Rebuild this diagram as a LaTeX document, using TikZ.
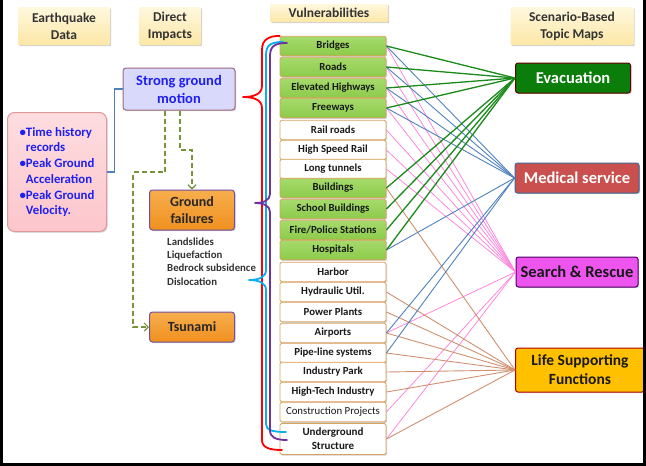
\documentclass[tikz,border=0pt]{standalone}
\usepackage{fontspec}
\setmainfont{Carlito}
\usetikzlibrary{shadows,arrows.meta}
\definecolor{vgreen}{HTML}{8CCB4A}
\definecolor{vgreentop}{HTML}{A6DA6C}
\definecolor{vborder}{HTML}{D9A35E}
\definecolor{creamtop}{HTML}{FFF8DE}
\definecolor{creambot}{HTML}{FCE7A6}
\definecolor{sgmfill}{HTML}{D9D9FB}
\definecolor{sgmdraw}{HTML}{9C6A80}
\definecolor{sgmtext}{HTML}{1F1FF0}
\definecolor{pinkfill}{HTML}{FCC6CC}
\definecolor{pinkdraw}{HTML}{E09898}
\definecolor{orangefill}{HTML}{F0901E}
\definecolor{orangetop}{HTML}{F7AE4E}
\definecolor{gfdraw}{HTML}{7050A0}
\definecolor{evacfill}{HTML}{0A7D0A}
\definecolor{medfill}{HTML}{C9504F}
\definecolor{srfill}{HTML}{EE55EE}
\definecolor{lifefill}{HTML}{FFC000}
\definecolor{lgreen}{HTML}{1A8A1A}
\definecolor{lblue}{HTML}{4F81BD}
\definecolor{lpink}{HTML}{FF88DD}
\definecolor{lbrown}{HTML}{D09070}
\definecolor{dgreen}{HTML}{77933C}
\definecolor{bcyan}{HTML}{00B0F0}
\definecolor{bpurple}{HTML}{7030A0}
\definecolor{txtgray}{HTML}{333333}
\tikzset{
  shad/.style={drop shadow={opacity=0.3, shadow xshift=1.2pt, shadow yshift=-1.2pt, fill=black!60}},
  hdr/.style={shad, top color=creamtop, bottom color=creambot, draw=none, rounded corners=1pt,
    font=\bfseries\fontsize{13.5}{17}\selectfont, text=txtgray, align=center, inner sep=1pt},
  vbox/.style={shad, draw=vborder, line width=0.8pt, rounded corners=1.5pt, minimum width=106pt,
    minimum height=19.5pt, inner sep=0.5pt, font=\bfseries\fontsize{10.8}{13}\selectfont, text=black!90},
  vgr/.style={vbox, top color=vgreentop, bottom color=vgreen},
  vwh/.style={vbox, fill=white},
  topic/.style={shad, rounded corners=2.5pt, line width=1pt, inner sep=1pt,
    font=\bfseries\fontsize{16.5}{19}\selectfont, align=center},
  lgr/.style={lgreen, line width=1.3pt},
  lbl/.style={lblue, line width=0.9pt},
  lpk/.style={lpink, line width=0.8pt},
  lbr/.style={lbrown, line width=0.9pt},
  gdash/.style={dgreen, line width=1.8pt, dash pattern=on 5pt off 3pt,
    -{Straight Barb[length=4pt,width=8pt,line width=1.2pt]}},
  brace/.style={line width=1.8pt, line cap=round, line join=round}
}
\begin{document}
\begin{tikzpicture}[x=1pt,y=-1pt]
\useasboundingbox (0,0) rectangle (646,466);

% headers
\node[hdr, minimum width=92pt, minimum height=38pt] (eqd) at (64,26) {Earthquake\\Data};
\node[hdr, minimum width=62pt, minimum height=38pt] (di) at (170,26) {Direct\\Impacts};
\node[hdr, minimum width=118pt, minimum height=18pt] (vul) at (329,13) {Vulnerabilities};
\node[hdr, minimum width=123pt, minimum height=38pt] (sbt) at (572,26) {Scenario-Based\\Topic Maps};

% left boxes
\node[shad, fill=sgmfill, draw=sgmdraw, line width=1pt, rounded corners=3pt, minimum width=112pt,
  minimum height=42pt, align=center, text=sgmtext, inner sep=1pt,
  font=\bfseries\fontsize{14.5}{18}\selectfont] (sgm) at (179,89) {Strong ground\\motion};
\node[shad, top color=pinkfill!60, bottom color=pinkfill, draw=pinkdraw, line width=1pt, rounded corners=7pt,
  minimum width=99pt, minimum height=119pt, align=left, text=sgmtext, inner sep=2pt,
  font=\bfseries\fontsize{12.8}{15.7}\selectfont] (thr) at (57,172)
  {\textbullet Time history\\\hphantom{\textbullet}records\\\textbullet Peak Ground\\\hphantom{\textbullet}Acceleration\\\textbullet Peak Ground\\\hphantom{\textbullet}Velocity.};
\node[shad, top color=orangetop, bottom color=orangefill, draw=gfdraw, line width=1pt, rounded corners=3pt,
  minimum width=85pt, minimum height=40pt, align=center, text=black!85, inner sep=1pt,
  font=\bfseries\fontsize{14}{17}\selectfont] (gf) at (192,210) {Ground\\failures};
\node[anchor=north west, align=left, inner sep=0pt, text=txtgray,
  font=\bfseries\fontsize{10.8}{13.3}\selectfont] (gflist) at (167,237.5)
  {Landslides\\Liquefaction\\Bedrock subsidence\\Dislocation};
\node[shad, top color=orangetop, bottom color=orangefill, draw=gfdraw, line width=1pt, rounded corners=3pt,
  minimum width=85pt, minimum height=30pt, text=black!85, inner sep=1pt,
  font=\bfseries\fontsize{14}{17}\selectfont] (ts) at (192,327) {Tsunami};

% connectors left
\draw[lblue, line width=1.3pt] (sgm.west) -- ++(-8,0) |- (thr.east);
\draw[gdash] ([xshift=-14pt]sgm.south) -- (165,172) -- (133,172) |- (ts.west);
\draw[gdash] ([xshift=1pt]sgm.south) -- (180,150) -- (192,150) -- (gf.north);

% vulnerabilities
\foreach \n/\y/\s/\t in {v1/46/vgr/Bridges, v2/67/vgr/Roads, v3/88/vgr/Elevated Highways,
  v4/108/vgr/Freeways, v5/130/vwh/Rail roads, v6/150/vwh/High Speed Rail, v7/169/vwh/Long tunnels,
  v8/188/vgr/Buildings, v9/209/vgr/School Buildings, v10/230/vgr/{Fire/Police Stations},
  v11/250/vgr/Hospitals, v12/272/vwh/Harbor, v13/292/vwh/Hydraulic Util., v14/312/vwh/Power Plants,
  v15/333/vwh/Airports, v16/353/vwh/Pipe-line systems, v17/372/vwh/Industry Park,
  v18/392/vwh/High-Tech Industry, v19/412/vwh/{\mdseries Construction Projects}}
  \node[\s] (\n) at (333,\y) {\t};
\node[vwh, minimum height=31pt, align=center, font=\bfseries\fontsize{11}{14}\selectfont] (v20) at (333,439) {Underground\\Structure};

% braces
\draw[brace, red] (v1.north west) .. controls (268,36) and (262,40) .. (262,50) -- (262,86)
  .. controls (262,94) and (254,97) .. (243,97) .. controls (254,97) and (262,100) .. (262,108)
  -- (262,440) .. controls (262,447) and (268,450) .. (282,450);
\draw[brace, bcyan] (283,42) .. controls (271,42) and (266,45) .. (266,55) -- (266,270)
  .. controls (266,277) and (259,280) .. (249,280) .. controls (259,280) and (266,283) .. (266,290)
  -- (266,424) .. controls (266,430) and (272,432) .. (286,432);
\draw[brace, bpurple] (287,43) .. controls (275,43) and (270,46) .. (270,56) -- (270,194)
  .. controls (270,200) and (264,203) .. (255,203) .. controls (264,203) and (270,206) .. (270,212)
  -- (270,430) .. controls (270,437) and (275,440) .. (287,440);

% topic maps
\node[topic, fill=evacfill, draw=black!60!red, text=white, minimum width=115pt, minimum height=30pt] (evac) at (573,78) {Evacuation};
\node[topic, fill=medfill, draw=lblue!80!black, text=white, minimum width=124pt, minimum height=30pt] (med) at (577,178) {Medical service};
\node[topic, fill=srfill, draw=black!50!red!60!blue, text=black!90, minimum width=122pt, minimum height=30pt] (sr) at (577,272) {Search \& Rescue};
\node[topic, fill=lifefill, draw=red!70!black, text=black!90, minimum width=129pt, minimum height=44pt,
  font=\bfseries\fontsize{15.5}{19}\selectfont] (life) at (580,370) {Life Supporting\\Functions};

% connections
\foreach \v in {v1,v2,v3,v4,v5,v6,v7,v15,v19,v20} \draw[lpk] (\v.east) -- (sr.west);
\foreach \v in {v8,v13,v14,v15,v16,v17,v18,v20} \draw[lbr] (\v.east) -- (life.west);
\foreach \v in {v1,v2,v3,v4,v11,v15,v16} \draw[lbl] (\v.east) -- (med.west);
\foreach \v in {v1,v2,v3,v4,v8,v9,v10,v11} \draw[lgr] (\v.east) -- (evac.west);

% frame
\draw[line width=2.6pt] (1.3,0) -- (1.3,464.7) -- (644.7,464.7) -- (644.7,0);
\end{tikzpicture}
\end{document}
